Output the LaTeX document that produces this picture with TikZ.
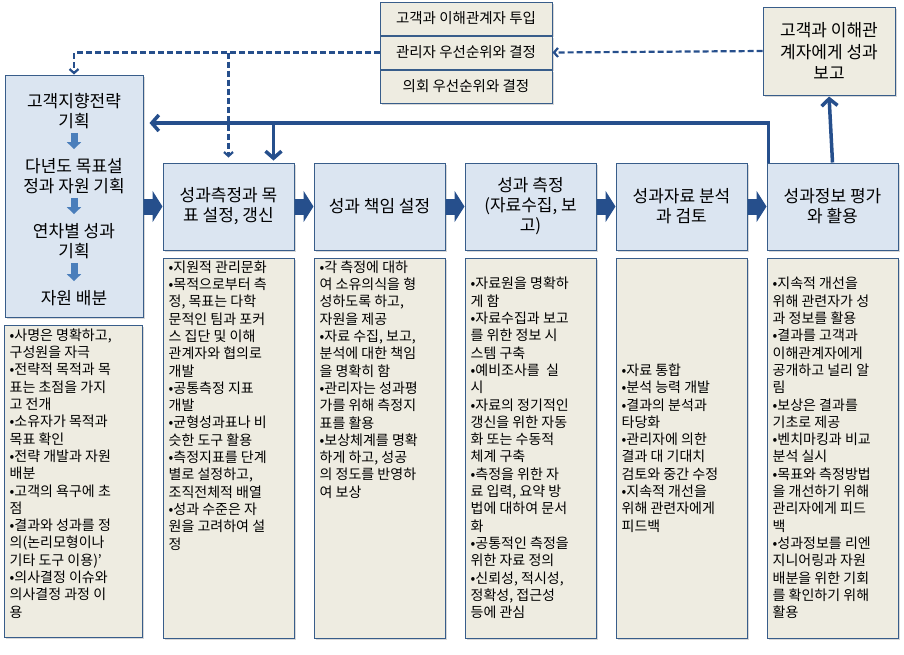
\documentclass[tikz,border=0pt]{standalone}
\usepackage{fontspec}
\setmainfont{Noto Sans CJK KR}
\definecolor{lineblue}{HTML}{264F8C}
\definecolor{edgeblue}{HTML}{385D8A}
\definecolor{procfill}{HTML}{DBE5F1}
\definecolor{notefill}{HTML}{EEECE1}
\definecolor{stepblue}{HTML}{4A7EBB}
\usetikzlibrary{arrows.meta, positioning, shadows, calc}
\newcommand{\procfont}{\fontsize{17pt}{20pt}\selectfont}
\newcommand{\repfont}{\fontsize{17pt}{21.5pt}\selectfont}
\newcommand{\notefont}{\fontsize{14pt}{17.3pt}\selectfont}
\newcommand{\stackfont}{\fontsize{14.5pt}{17pt}\selectfont}

\begin{document}
\begin{tikzpicture}[x=1pt, y=-1pt,
        node distance=7pt and 19pt,
        boxshadow/.style={drop shadow={shadow xshift=1.5pt, shadow yshift=-1.5pt,
                          fill=black!30}},
        procbox/.style={rectangle, draw=edgeblue, line width=1pt, fill=procfill,
                        minimum width=131pt, minimum height=87pt, inner sep=2pt,
                        align=center, font=\procfont, boxshadow},
        planbox/.style={procbox, minimum width=138pt, minimum height=242pt},
        repbox/.style={procbox, fill=notefill, minimum width=132pt,
                       minimum height=88pt, font=\repfont},
        stackrow/.style={rectangle, draw=edgeblue, line width=1pt, fill=notefill,
                         minimum width=172pt, minimum height=33pt, inner sep=0pt,
                         font=\stackfont, boxshadow},
        notebox/.style={rectangle, draw=edgeblue, line width=1pt, fill=notefill,
                        minimum width=131pt, minimum height=380pt, boxshadow},
        notetxt/.style={align=left, font=\notefont, inner sep=0pt},
        plantxt/.style={align=center, font=\procfont, inner sep=0pt},
        flowarr/.style={draw=lineblue, line width=16pt,
                        -{Triangle[length=10pt, width=31pt]}},
        steparr/.style={draw=stepblue, line width=7pt,
                        -{Triangle[length=7pt, width=14pt]},
                        shorten <=4pt, shorten >=9pt},
        fbarr/.style={draw=lineblue, line width=3.5pt,
                      -{Straight Barb[length=7pt, width=16pt]}},
        dasharr/.style={draw=lineblue, line width=2.2pt, dash pattern=on 6pt off 3pt,
                        -{Straight Barb[length=4pt, width=9pt]}}
      ]
      \useasboundingbox (0,0) rectangle (904,654);

      \node[stackrow] (inp) at (466,18.5) {고객과 이해관계자 투입};
      \node[stackrow, below=0pt of inp] (mgr) {관리자 우선순위와 결정};
      \node[stackrow, below=0pt of mgr] (cong) {의회 우선순위와 결정};
      \node[repbox] (rep) at (829,51) {고객과 이해관\\계자에게 성과\\보고};

      \node[planbox] (plan) at (74,196) {};
      \node[plantxt] (p1) at (74,111) {고객지향전략\\기획};
      \node[plantxt] (p2) at (74,176) {다년도 목표설\\정과 자원 기획};
      \node[plantxt] (p3) at (74,241) {연차별 성과\\기획};
      \node[plantxt] (p4) at (74,298) {자원 배분};
      \draw[steparr] (p1) -- (p2);
      \draw[steparr] (p2) -- (p3);
      \draw[steparr] (p3) -- (p4);

      \node[procbox] (meas) at (228.5,206.5) {성과측정과 목\\표 설정, 갱신};
      \node[procbox, right=of meas] (resp) {성과 책임 설정};
      \node[procbox, right=of resp] (coll) {성과 측정\\(자료수집, 보\\고)};
      \node[procbox, right=of coll] (anal) {성과자료 분석\\과 검토};
      \node[procbox, right=of anal] (eval) {성과정보 평가\\와 활용};

      \node[notebox, minimum width=138pt, minimum height=312pt] (planN) at (73,481) {};
      \node[notebox, below=of meas] (measN) {};
      \node[notebox, below=of resp] (respN) {};
      \node[notebox, below=of coll] (collN) {};
      \node[notebox, below=of anal] (analN) {};
      \node[notebox, below=of eval] (evalN) {};

      \node[notetxt, anchor=north west] (planT) at ([xshift=6pt, yshift=-4pt]planN.north west)
        {•사명은 명확하고,\\구성원을 자극\\•전략적 목적과 목\\표는 초점을 가지\\고 전개\\
         •소유자가 목적과\\목표 확인\\•전략 개발과 자원\\배분\\•고객의 욕구에 초\\점\\
         •결과와 성과를 정\\의(논리모형이나\\기타 도구 이용)’\\•의사결정 이슈와\\
         의사결정 과정 이\\용};
      \node[notetxt, anchor=north west] (measT) at ([xshift=6pt, yshift=-3pt]measN.north west)
        {•지원적 관리문화\\•목적으로부터 측\\정, 목표는 다학\\문적인 팀과 포커\\
         스 집단 및 이해\\관계자와 협의로\\개발\\•공통측정 지표\\개발\\
         •균형성과표나 비\\슷한 도구 활용\\•측정지표를 단계\\별로 설정하고,\\
         조직전체적 배열\\•성과 수준은 자\\원을 고려하여 설\\정};
      \node[notetxt, anchor=north west] (respT) at ([xshift=6pt, yshift=-3pt]respN.north west)
        {•각 측정에 대하\\여 소유의식을 형\\성하도록 하고,\\자원을 제공\\
         •자료 수집, 보고,\\분석에 대한 책임\\을 명확히 함\\•관리자는 성과평\\
         가를 위해 측정지\\표를 활용\\•보상체계를 명확\\하게 하고, 성공\\
         의 정도를 반영하\\여 보상};
      \node[notetxt, anchor=west] (collT) at ([xshift=6pt]collN.west)
        {•자료원을 명확하\\게 함\\•자료수집과 보고\\를 위한 정보 시\\스템 구축\\
         •예비조사를~ 실\\시\\•자료의 정기적인\\갱신을 위한 자동\\화 또는 수동적\\
         체계 구축\\•측정을 위한 자\\료 입력, 요약 방\\법에 대하여 문서\\화\\
         •공통적인 측정을\\위한 자료 정의\\•신뢰성, 적시성,\\정확성, 접근성\\등에 관심};
      \node[notetxt, anchor=west] (analT) at ([xshift=6pt]analN.west)
        {•자료 통합\\•분석 능력 개발\\•결과의 분석과\\타당화\\•관리자에 의한\\
         결과 대 기대치\\검토와 중간 수정\\•지속적 개선을\\위해 관련자에게\\피드백};
      \node[notetxt, anchor=west] (evalT) at ([xshift=6pt]evalN.west)
        {•지속적 개선을\\위해 관련자가 성\\과 정보를 활용\\•결과를 고객과\\
         이해관계자에게\\공개하고 널리 알\\림\\•보상은 결과를\\기초로 제공\\
         •벤치마킹과 비교\\분석 실시\\•목표와 측정방법\\을 개선하기 위해\\
         관리자에게 피드\\백\\•성과정보를 리엔\\지니어링과 자원\\배분을 위한 기회\\
         를 확인하기 위해\\활용};

      \draw[flowarr] (plan.east |- meas.west) -- (meas.west);
      \draw[flowarr] (meas.east) -- (resp.west);
      \draw[flowarr] (resp.east) -- (coll.west);
      \draw[flowarr] (coll.east) -- (anal.west);
      \draw[flowarr] (anal.east) -- (eval.west);

      \coordinate (loop) at (765,123);
      \coordinate (fbin) at ([xshift=-21pt]meas.north east);
      \draw[fbarr, shorten >=6pt] ([xshift=2pt]eval.north west) |- (plan.east |- loop);
      \draw[fbarr, shorten >=2pt] (loop -| fbin) -- (fbin);
      \draw[fbarr, shorten >=1pt] (eval.north) -- (rep.south);

      \draw[dasharr] (rep.west) -- (mgr.east);
      \draw[dasharr] (mgr.west) -| (plan.north);
      \draw[dasharr, shorten >=5pt] (mgr.west -| meas.north) -- (meas.north);
    \end{tikzpicture}
\end{document}
